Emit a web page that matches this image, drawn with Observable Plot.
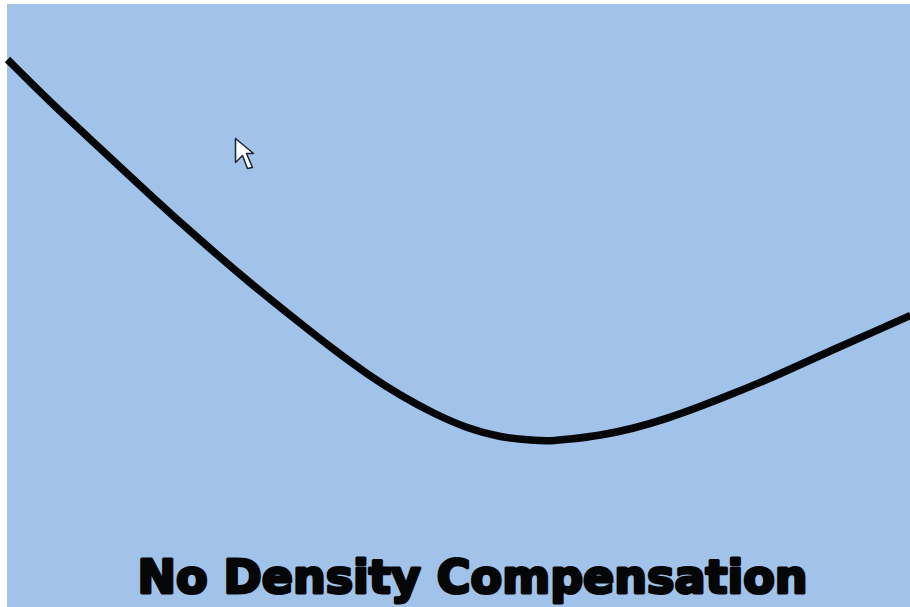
<!DOCTYPE html>
<html><head><meta charset="utf-8">
<script src="https://cdn.jsdelivr.net/npm/d3@7"></script>
<script src="https://cdn.jsdelivr.net/npm/@observablehq/plot@0.6"></script>
<style>html,body{margin:0;padding:0;background:#fff}svg{display:block}</style>
</head><body><div id="c"></div>
<script>
const curveX = [7,50,100,150,200,250,300,333,367,400,433,467,500,533,550,567,600,633,667,700,733,767,800,833,867,910];
const curveY = [59,102,148,195,240,283,323,349,374,395,413,428,437,440,440.5,439,435,428,418,406,393,379,364,349,334,315];
const cursorX = [235,235,242,247,252,246,253,235];
const cursorY = [138,162,155,168,167,153,153,138];
const title = "No Density Compensation";
const panel = [{x1:7,x2:910,y1:4,y2:607}];
const curve = curveX.map((x,i)=>({x,y:curveY[i]}));
const cursor = cursorX.map((x,i)=>({x,y:cursorY[i]}));
const chart = Plot.plot({
  width:910,height:607,margin:0,
  x:{domain:[0,910],axis:null},
  y:{domain:[607,0],axis:null},
  style:{background:"#fff"},
  marks:[
    Plot.rect(panel,{x1:"x1",x2:"x2",y1:"y1",y2:"y2",fill:"#a2c3e9"}),
    Plot.line(curve,{x:"x",y:"y",curve:"basis",stroke:"#050608",strokeWidth:7.5,strokeLinecap:"butt"}),
    Plot.line(cursor,{x:"x",y:"y",curve:"linear",fill:"#fff",stroke:"#1a2433",strokeWidth:1.5}),
    Plot.text([title],{x:[472],y:[578],text:d=>d,fontFamily:"DejaVu Sans",fontWeight:"bold",fontSize:46,fill:"#050608",stroke:"#050608",strokeWidth:3,textAnchor:"middle"})
  ]
});
document.getElementById("c").append(chart);
</script></body></html>
